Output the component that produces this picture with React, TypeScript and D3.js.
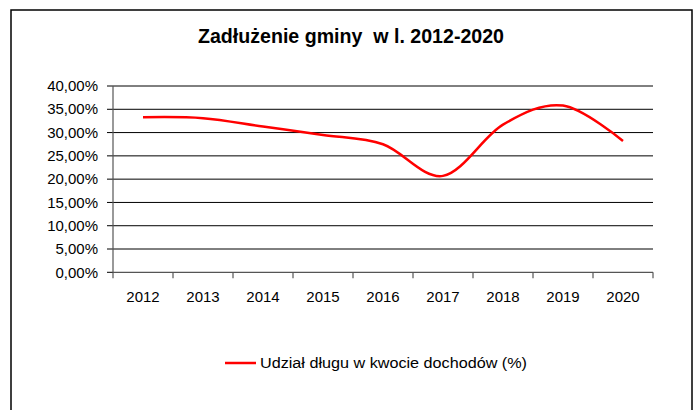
import React from "react";
import * as d3 from "d3";

const years = ["2012", "2013", "2014", "2015", "2016", "2017", "2018", "2019", "2020"];
const debtShare = [33.3, 33.1, 31.3, 29.5, 27.5, 20.7, 31.7, 35.8, 28.2];
const yTicks = [0, 5, 10, 15, 20, 25, 30, 35, 40];
const title = "Zadłużenie gminy  w l. 2012-2020";
const seriesName = "Udział długu w kwocie dochodów (%)";

const W = 696;
const H = 410;
const left = 113;
const right = 653;
const top = 86;
const bottom = 272.3;

export default function App() {
  const x = d3.scaleBand<string>().domain(years).range([left, right]).padding(0);
  const y = d3.scaleLinear().domain([0, 40]).range([bottom, top]);
  const line = d3
    .line<number>()
    .x((_, i) => (x(years[i]) as number) + x.bandwidth() / 2)
    .y((d) => y(d))
    .curve(d3.curveCardinal.tension(0));
  const fmt = (v: number) => v.toFixed(2).replace(".", ",") + "%";
  const font = "'Liberation Sans', Arial, sans-serif";
  const boundaries = years.map((yr) => x(yr) as number).concat([right]);

  return (
    <div style={{ position: "fixed", left: 0, top: 0 }}>
      <svg width={W} height={H} style={{ display: "block", background: "#fff" }} fontFamily={font}>
        <rect x={11} y={10} width={681} height={420} fill="#fff" stroke="#000" strokeWidth={1.5} />
        <text
          x={351}
          y={42.5}
          textAnchor="middle"
          fontSize={19.5}
          fontWeight="bold"
          fill="#000"
          style={{ whiteSpace: "pre" }}
          textLength={306}
          lengthAdjust="spacingAndGlyphs"
        >
          {title}
        </text>
        {yTicks.map((t) => (
          <g key={t}>
            {t > 0 && (
              <line x1={left} x2={right} y1={y(t)} y2={y(t)} stroke="#000" strokeWidth={1} />
            )}
            <line x1={left - 6} x2={left} y1={y(t)} y2={y(t)} stroke="#000" strokeWidth={1} />
            <text x={98} y={y(t) + 5.2} textAnchor="end" fontSize={15} fill="#000">
              {fmt(t)}
            </text>
          </g>
        ))}
        <line x1={left} x2={left} y1={top} y2={bottom} stroke="#555" strokeWidth={1.2} />
        <line x1={left} x2={right} y1={bottom} y2={bottom} stroke="#555" strokeWidth={1.2} />
        {boundaries.map((b, i) => (
          <line key={i} x1={b} x2={b} y1={bottom} y2={bottom + 6} stroke="#555" strokeWidth={1.2} />
        ))}
        {years.map((yr) => (
          <text
            key={yr}
            x={(x(yr) as number) + x.bandwidth() / 2}
            y={301.7}
            textAnchor="middle"
            fontSize={15}
            fill="#000"
          >
            {yr}
          </text>
        ))}
        <path d={line(debtShare) || ""} fill="none" stroke="#ff0000" strokeWidth={2.5} strokeLinejoin="round" />
        <line x1={225} x2={256} y1={363} y2={363} stroke="#ff0000" strokeWidth={2.5} />
        <text x={260} y={368.3} fontSize={15.5} fill="#000" textLength={267} lengthAdjust="spacingAndGlyphs">
          {seriesName}
        </text>
      </svg>
    </div>
  );
}
